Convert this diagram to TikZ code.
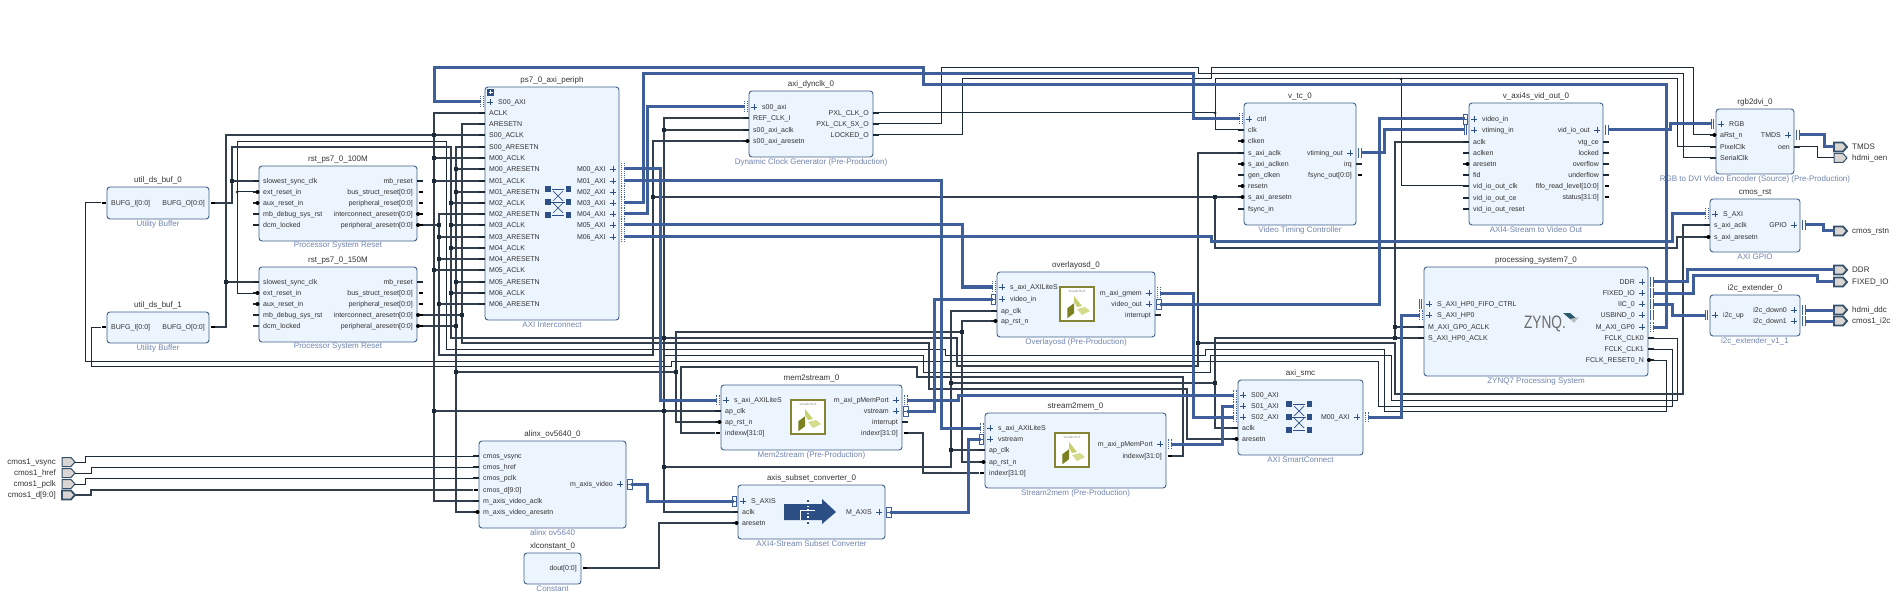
\documentclass[tikz,border=0pt]{standalone}
\usepackage{fontspec}
\setmainfont{Liberation Sans}
\catcode`\_=12
\definecolor{boxfill}{HTML}{ECF4FD}
\definecolor{boxline}{HTML}{3F5F8A}
\definecolor{capcol}{HTML}{7084AE}
\definecolor{txtcol}{HTML}{333333}
\definecolor{wirecol}{HTML}{1C2A38}
\definecolor{bluew}{HTML}{3F5F9A}
\definecolor{iconb}{HTML}{2C4F86}
\definecolor{portf}{HTML}{D9D5D2}
\definecolor{porte}{HTML}{34506A}
\tikzset{
  blockbox/.style={draw=boxline,fill=boxfill,line width=0.9pt,rounded corners=3pt,inner sep=0pt,rectangle},
  blocktitle/.style={font=\fontsize{8}{9}\selectfont,text=txtcol,inner sep=0pt},
  blockcap/.style={font=\fontsize{8}{9}\selectfont,text=capcol,inner sep=0pt},
  pinl/.style={font=\fontsize{7}{8}\selectfont,text=txtcol,inner sep=0pt,anchor=base west},
  pinr/.style={font=\fontsize{7}{8}\selectfont,text=txtcol,inner sep=0pt,anchor=base east},
  portl/.style={font=\fontsize{8}{9}\selectfont,text=txtcol,inner sep=0pt},
  stub/.style={draw=wirecol,line width=1.3pt},
  stubbus/.style={draw=black,line width=2.6pt},
  adot/.style={fill=black},
  plusm/.style={draw=iconb,line width=0.9pt},
  mkline/.style={draw=bluew,line width=0.7pt},
  wthin/.style={draw=wirecol,line width=1pt},
  wthick/.style={draw=wirecol!90!white,line width=1.9pt},
  wblue/.style={draw=bluew,line width=3pt},
  junc/.style={fill=wirecol,inner sep=0pt,minimum size=3.8pt,rectangle},
  portshape/.style={draw=porte,fill=portf,line width=1pt},
  portbus/.style={draw=porte,fill=portf,line width=1.8pt},
}
\newcommand{\Block}[7]{%
  \node[blockbox,minimum width={(#4-#2)*1pt},minimum height={(#5-#3)*1pt}] (#1) at ({(#2+#4)/2},{(#3+#5)/2}) {};
  \node[blocktitle] (#1-title) at ({(#2+#4)/2},{#3-6.5}) {#6};
  \node[blockcap] (#1-cap) at ({(#2+#4)/2},{#5+5}) {#7};}
% left pins
\newcommand{\LN}[4]{\coordinate (#1) at ({#2-6},#3); \draw[stub] (#1) -- (#2,#3); \node[pinl] (#1-t) at ({#2+4},{#3+2.5}) {#4};}
\newcommand{\LR}[4]{\LN{#1}{#2}{#3}{#4}\fill[adot] ({#2-1.5},#3) circle (2pt);}
\newcommand{\LB}[4]{\coordinate (#1) at ({#2-6},#3); \draw[stubbus] ({#2-5.5},#3) -- ({#2-1.5},#3); \node[pinl] (#1-t) at ({#2+4},{#3+2.5}) {#4};}
\newcommand{\LI}[5]{\coordinate (#1) at ({#2-4},#3); \draw[plusm] ({#2+2},#3) -- ({#2+8},#3) ({#2+5},{#3-3}) -- ({#2+5},{#3+3}); #5{#2-3.5}{#3} \node[pinl] (#1-t) at ({#2+13},{#3+2.5}) {#4};}
% right pins
\newcommand{\RN}[4]{\coordinate (#1) at ({#2+6},#3); \draw[stub] (#1) -- (#2,#3); \node[pinr] (#1-t) at ({#2-4},{#3+2.5}) {#4};}
\newcommand{\RB}[4]{\coordinate (#1) at ({#2+6},#3); \draw[stubbus] ({#2+1.5},#3) -- ({#2+5.5},#3); \node[pinr] (#1-t) at ({#2-4},{#3+2.5}) {#4};}
\newcommand{\RD}[4]{\RB{#1}{#2}{#3}{#4}\fill[adot] ({#2+1},#3) circle (2pt);}
\newcommand{\RR}[4]{\RN{#1}{#2}{#3}{#4}\fill[adot] ({#2+1},#3) circle (2pt);}
\newcommand{\RI}[5]{\coordinate (#1) at ({#2+5},#3); \draw[plusm] ({#2-9},#3) -- ({#2-3},#3) ({#2-6},{#3-3}) -- ({#2-6},{#3+3}); #5{#2+4}{#3} \node[pinr] (#1-t) at ({#2-13},{#3+2.5}) {#4};}
% interface markers
\newcommand{\MkD}[2]{\draw[mkline,dash pattern=on 0.9pt off 1pt] ({#1-1.5},{#2-5.5}) -- ({#1-1.5},{#2+5.5}) ({#1+1.5},{#2-5.5}) -- ({#1+1.5},{#2+5.5});}
\newcommand{\MkP}[2]{\draw[mkline] ({#1-1.2},{#2-5}) -- ({#1-1.2},{#2+5}) ({#1+1.2},{#2-5}) -- ({#1+1.2},{#2+5});}
\newcommand{\MkS}[2]{\draw[mkline,fill=white] ({#1-2.2},{#2-5}) rectangle ({#1+2.2},{#2+5}); \draw[mkline] ({#1-2.2},#2) -- ({#1+2.2},#2);}
% ports
\newcommand{\PortIn}[4]{\draw[#4] (62,{#2-4.5}) -- (71,{#2-4.5}) -- (75,#2) -- (71,{#2+4.5}) -- (62,{#2+4.5}) -- cycle;
  \coordinate (#1) at (75,#2); \node[portl,anchor=base east] (#1-t) at (56,{#2+2.7}) {#3};}
\newcommand{\PortOut}[4]{\draw[#4] (1834,{#2-4.5}) -- (1843,{#2-4.5}) -- (1847,#2) -- (1843,{#2+4.5}) -- (1834,{#2+4.5}) -- cycle;
  \coordinate (#1) at (1834,#2); \node[portl,anchor=base west] (#1-t) at (1852,{#2+2.7}) {#3};}
\newcommand{\J}[2]{\node[junc] (j-#1-#2) at (#1,#2) {};}
% icons
\newcommand{\XBar}[2]{%
  \foreach \yy in {-13,0,13}{\fill[iconb] ({#1-13},{#2+\yy-2.8}) rectangle ({#1-7.5},{#2+\yy+2.8}); \fill[iconb] ({#1+7.5},{#2+\yy-2.8}) rectangle ({#1+13},{#2+\yy+2.8});}
  \draw[iconb,line width=0.7pt] ({#1-6},{#2-13}) -- ({#1+6},{#2-13}) ({#1-7},#2) -- ({#1+7},#2) ({#1-6},{#2+13}) -- ({#1+6},{#2+13});
  \draw[iconb,line width=0.7pt] ({#1-5},{#2-11}) -- ({#1+5},{#2-1}) ({#1+5},{#2-11}) -- ({#1-5},{#2-1}) ({#1-5},{#2+1}) -- ({#1+5},{#2+11}) ({#1+5},{#2+1}) -- ({#1-5},{#2+11});}
\newcommand{\HLS}[3]{%
  \node[draw={rgb,255:red,132;green,132;blue,50},line width=1.5pt,fill=white,minimum size=34pt,inner sep=0pt] (#1) at (#2,#3) {};
  \node[font=\fontsize{3.2}{4}\selectfont,text=gray,inner sep=0pt] (#1-t) at (#2,{#3-12.5}) {Vivado HLS};
  \fill[fill={rgb,255:red,122;green,128;blue,30}] ({#2-9.7},{#3+4.3}) -- ({#2-3},{#3-0.7}) -- ({#2-3},{#3+9.3}) -- ({#2-9.7},{#3+14.3}) -- cycle;
  \fill[fill={rgb,255:red,200;green,207;blue,110}] ({#2-3},{#3-8}) -- ({#2+5},{#3+2}) -- ({#2},{#3+3}) -- ({#2-3},{#3-2}) -- cycle;
  \fill[fill={rgb,255:red,213;green,219;blue,140}] ({#2},{#3+5}) -- ({#2+8},{#3+3}) -- ({#2+13},{#3+7}) -- ({#2+5},{#3+11}) -- cycle;}
\begin{document}
\begin{tikzpicture}[x=1pt,y=-1pt]
\useasboundingbox (0,0) rectangle (1899,604);
% ---------- blocks ----------
\Block{ubuf0}{107}{187}{209}{219}{util_ds_buf_0}{Utility Buffer}
\LB{u0I}{107}{203}{BUFG_I[0:0]}
\RB{u0O}{209}{203}{BUFG_O[0:0]}
\Block{ubuf1}{107}{312}{209}{343}{util_ds_buf_1}{Utility Buffer}
\LB{u1I}{107}{327}{BUFG_I[0:0]}
\RB{u1O}{209}{327}{BUFG_O[0:0]}
\Block{rst0}{259}{166}{417}{241}{rst_ps7_0_100M}{Processor System Reset}
\LN{r0sl}{259}{181}{slowest_sync_clk}
\LR{r0er}{259}{192}{ext_reset_in}
\LR{r0ar}{259}{203}{aux_reset_in}
\LN{r0mb}{259}{214}{mb_debug_sys_rst}
\LN{r0dc}{259}{225}{dcm_locked}
\RN{r0mr}{417}{181}{mb_reset}
\RB{r0bs}{417}{192}{bus_struct_reset[0:0]}
\RB{r0pr}{417}{203}{peripheral_reset[0:0]}
\RD{r0ia}{417}{214}{interconnect_aresetn[0:0]}
\RD{r0pa}{417}{225}{peripheral_aresetn[0:0]}
\Block{rst1}{259}{267}{417}{342}{rst_ps7_0_150M}{Processor System Reset}
\LN{r1sl}{259}{282}{slowest_sync_clk}
\LR{r1er}{259}{293}{ext_reset_in}
\LR{r1ar}{259}{304}{aux_reset_in}
\LN{r1mb}{259}{315}{mb_debug_sys_rst}
\LN{r1dc}{259}{326}{dcm_locked}
\RN{r1mr}{417}{282}{mb_reset}
\RB{r1bs}{417}{293}{bus_struct_reset[0:0]}
\RB{r1pr}{417}{304}{peripheral_reset[0:0]}
\RD{r1ia}{417}{315}{interconnect_aresetn[0:0]}
\RD{r1pa}{417}{326}{peripheral_aresetn[0:0]}
\Block{axip}{485}{87}{619}{320}{ps7_0_axi_periph}{AXI Interconnect}
\fill[iconb] (487,89) rectangle (494,96);
\draw[white,line width=0.8pt] (488.5,92.5) -- (492.5,92.5) (490.5,90.5) -- (490.5,94.5);
\LI{psS00}{485}{102}{S00_AXI}{\MkD}
\LN{psA}{485}{113}{ACLK}
\LN{psAR}{485}{124}{ARESETN}
\LN{psS0A}{485}{135}{S00_ACLK}
\LN{psS0R}{485}{147}{S00_ARESETN}
\LN{psM0A}{485}{158}{M00_ACLK}
\LN{psM0R}{485}{169}{M00_ARESETN}
\LN{psM1A}{485}{181}{M01_ACLK}
\LN{psM1R}{485}{192}{M01_ARESETN}
\LN{psM2A}{485}{203}{M02_ACLK}
\LN{psM2R}{485}{214}{M02_ARESETN}
\LN{psM3A}{485}{225}{M03_ACLK}
\LN{psM3R}{485}{237}{M03_ARESETN}
\LN{psM4A}{485}{248}{M04_ACLK}
\LN{psM4R}{485}{259}{M04_ARESETN}
\LN{psM5A}{485}{270}{M05_ACLK}
\LN{psM5R}{485}{282}{M05_ARESETN}
\LN{psM6A}{485}{293}{M06_ACLK}
\LN{psM6R}{485}{304}{M06_ARESETN}
\RI{psM00}{619}{169}{M00_AXI}{\MkD}
\RI{psM01}{619}{181}{M01_AXI}{\MkD}
\RI{psM02}{619}{192}{M02_AXI}{\MkD}
\RI{psM03}{619}{203}{M03_AXI}{\MkD}
\RI{psM04}{619}{214}{M04_AXI}{\MkD}
\RI{psM05}{619}{225}{M05_AXI}{\MkD}
\RI{psM06}{619}{237}{M06_AXI}{\MkD}
\XBar{558}{202}
\Block{dyn}{749}{91}{873}{157}{axi_dynclk_0}{Dynamic Clock Generator (Pre-Production)}
\LI{dynS}{749}{107}{s00_axi}{\MkD}
\LN{dynRef}{749}{118}{REF_CLK_I}
\LN{dynAc}{749}{130}{s00_axi_aclk}
\LR{dynAr}{749}{141}{s00_axi_aresetn}
\RN{dynP}{873}{113}{PXL_CLK_O}
\RN{dyn5}{873}{124}{PXL_CLK_5X_O}
\RN{dynL}{873}{135}{LOCKED_O}
\Block{vtc}{1244}{103}{1356}{225}{v_tc_0}{Video Timing Controller}
\LI{vtcCtrl}{1244}{119}{ctrl}{\MkD}
\LN{vtcC}{1244}{130}{clk}
\LR{vtcCe}{1244}{141}{clken}
\LN{vtcSA}{1244}{153}{s_axi_aclk}
\LR{vtcSe}{1244}{164}{s_axi_aclken}
\LN{vtcGc}{1244}{175}{gen_clken}
\LR{vtcRs}{1244}{186}{resetn}
\LR{vtcAr}{1244}{197}{s_axi_aresetn}
\LN{vtcFs}{1244}{209}{fsync_in}
\RI{vtcOut}{1356}{153}{vtiming_out}{\MkP}
\RN{vtcIrq}{1356}{164}{irq}
\RB{vtcFo}{1356}{175}{fsync_out[0:0]}
\Block{vdo}{1469}{103}{1603}{225}{v_axi4s_vid_out_0}{AXI4-Stream to Video Out}
\LI{vdoIn}{1469}{119}{video_in}{\MkS}
\LI{vdoVt}{1469}{130}{vtiming_in}{\MkP}
\LN{vdoAc}{1469}{142}{aclk}
\LN{vdoAe}{1469}{153}{aclken}
\LR{vdoAr}{1469}{164}{aresetn}
\LN{vdoFd}{1469}{175}{fid}
\LN{vdoClk}{1469}{186}{vid_io_out_clk}
\LN{vdoCe}{1469}{198}{vid_io_out_ce}
\LN{vdoRs}{1469}{209}{vid_io_out_reset}
\RI{vdoOut}{1603}{130}{vid_io_out}{\MkP}
\RN{vdoVc}{1603}{142}{vtg_ce}
\RN{vdoLk}{1603}{153}{locked}
\RN{vdoOv}{1603}{164}{overflow}
\RN{vdoUn}{1603}{175}{underflow}
\RB{vdoFf}{1603}{186}{fifo_read_level[10:0]}
\RB{vdoSt}{1603}{197}{status[31:0]}
\Block{rgb}{1716}{109}{1794}{174}{rgb2dvi_0}{RGB to DVI Video Encoder (Source) (Pre-Production)}
\LI{rgbIn}{1716}{124}{RGB}{\MkP}
\LR{rgbR}{1716}{135}{aRst_n}
\LN{rgbP}{1716}{147}{PixelClk}
\LN{rgbS}{1716}{158}{SerialClk}
\RI{rgbT}{1794}{135}{TMDS}{\MkP}
\RN{rgbO}{1794}{147}{oen}
\Block{gpio}{1710}{199}{1800}{252}{cmos_rst}{AXI GPIO}
\LI{gpioS}{1710}{214}{S_AXI}{\MkD}
\LN{gpioAc}{1710}{225}{s_axi_aclk}
\LR{gpioAr}{1710}{237}{s_axi_aresetn}
\RI{gpioO}{1800}{225}{GPIO}{\MkP}
\Block{pc}{1424}{267}{1648}{376}{processing_system7_0}{ZYNQ7 Processing System}
\LI{pcFf}{1424}{304}{S_AXI_HP0_FIFO_CTRL}{\MkP}
\LI{pcHP}{1424}{315}{S_AXI_HP0}{\MkD}
\LN{pcGA}{1424}{327}{M_AXI_GP0_ACLK}
\LN{pcHA}{1424}{338}{S_AXI_HP0_ACLK}
\RI{pcDDR}{1648}{282}{DDR}{\MkP}
\RI{pcFI}{1648}{293}{FIXED_IO}{\MkP}
\RI{pcIIC}{1648}{304}{IIC_0}{\MkP}
\RI{pcUSB}{1648}{315}{USBIND_0}{\MkP}
\RI{pcGP}{1648}{327}{M_AXI_GP0}{\MkD}
\RN{pcC0}{1648}{338}{FCLK_CLK0}
\RN{pcC1}{1648}{349}{FCLK_CLK1}
\RR{pcR}{1648}{360}{FCLK_RESET0_N}
\node[font=\fontsize{18}{20}\selectfont,text=black!58,xscale=.76,inner sep=0pt] (zynqlogo) at (1545,324) {ZYNQ.};
\fill[fill={rgb,255:red,40;green,90;blue,110}] (1563,313) -- (1570,313) -- (1577,319) -- (1570,319) -- cycle;
\fill[fill=black!25] (1570,319) -- (1579,317) -- (1574,323) -- cycle;
\Block{i2c}{1710}{295}{1800}{336}{i2c_extender_0}{i2c_extender_v1_1}
\LI{i2cU}{1710}{315}{i2c_up}{\MkP}
\RI{i2cD0}{1800}{310}{i2c_down0}{\MkP}
\RI{i2cD1}{1800}{321}{i2c_down1}{\MkP}
\Block{ov}{997}{272}{1155}{337}{overlayosd_0}{Overlayosd (Pre-Production)}
\LI{ovA}{997}{287}{s_axi_AXILiteS}{\MkD}
\LI{ovVi}{997}{299}{video_in}{\MkS}
\LN{ovC}{997}{311}{ap_clk}
\LR{ovR}{997}{321}{ap_rst_n}
\RI{ovM}{1155}{293}{m_axi_gmem}{\MkD}
\RI{ovV}{1155}{304}{video_out}{\MkS}
\RN{ovI}{1155}{315}{interrupt}
\HLS{ovlogo}{1077}{304}
\Block{m2s}{721}{385}{902}{450}{mem2stream_0}{Mem2stream (Pre-Production)}
\LI{m2sA}{721}{400}{s_axi_AXILiteS}{\MkD}
\LN{m2sC}{721}{411}{ap_clk}
\LR{m2sR}{721}{422}{ap_rst_n}
\LB{m2sIW}{721}{433}{indexw[31:0]}
\RI{m2sM}{902}{400}{m_axi_pMemPort}{\MkD}
\RI{m2sV}{902}{411}{vstream}{\MkS}
\RN{m2sI}{902}{422}{interrupt}
\RB{m2sIR}{902}{433}{indexr[31:0]}
\HLS{m2slogo}{808}{417}
\Block{s2m}{985}{413}{1166}{488}{stream2mem_0}{Stream2mem (Pre-Production)}
\LI{s2mA}{985}{428}{s_axi_AXILiteS}{\MkD}
\LI{s2mV}{985}{439}{vstream}{\MkS}
\LN{s2mC}{985}{450}{ap_clk}
\LR{s2mR}{985}{462}{ap_rst_n}
\LB{s2mIR}{985}{473}{indexr[31:0]}
\RI{s2mM}{1166}{444}{m_axi_pMemPort}{\MkD}
\RB{s2mIW}{1166}{456}{indexw[31:0]}
\HLS{s2mlogo}{1072}{450}
\Block{smc}{1238}{380}{1363}{455}{axi_smc}{AXI SmartConnect}
\LI{smcS0}{1238}{395}{S00_AXI}{\MkD}
\LI{smcS1}{1238}{406}{S01_AXI}{\MkD}
\LI{smcS2}{1238}{417}{S02_AXI}{\MkD}
\LN{smcAc}{1238}{428}{aclk}
\LR{smcAr}{1238}{439}{aresetn}
\RI{smcM}{1363}{417}{M00_AXI}{\MkD}
\XBar{1299}{417}
\Block{al}{479}{441}{626}{528}{alinx_ov5640_0}{alinx ov5640}
\LN{alV1}{479}{456}{cmos_vsync}
\LN{alH1}{479}{467}{cmos_href}
\LN{alP1}{479}{478}{cmos_pclk}
\LB{alD1}{479}{490}{cmos_d[9:0]}
\LN{alAc}{479}{501}{m_axis_video_aclk}
\LR{alAr}{479}{512}{m_axis_video_aresetn}
\RI{alV}{626}{484}{m_axis_video}{\MkS}
\Block{xlc}{524}{553}{581}{584}{xlconstant_0}{Constant}
\RB{xlO}{581}{568}{dout[0:0]}
\Block{sub}{738}{485}{885}{539}{axis_subset_converter_0}{AXI4-Stream Subset Converter}
\LI{subS}{738}{501}{S_AXIS}{\MkS}
\LN{subAc}{738}{512}{aclk}
\LR{subAr}{738}{523}{aresetn}
\RI{subM}{885}{512}{M_AXIS}{\MkS}
\fill[iconb] (784,504) -- (822,504) -- (822,499) -- (836,512) -- (822,524) -- (822,520) -- (784,520) -- cycle;
\draw[white,line width=1pt] (800,510) -- (815,510) (800,510) -- (800,520);
\draw[white,line width=1.8pt] (808,498) -- (808,526);
\draw[iconb,line width=1.1pt,dash pattern=on 2pt off 1.6pt] (808,500) -- (808,525);
% ---------- ports ----------
\PortIn{pVs}{462}{cmos1_vsync}{portshape}
\PortIn{pHr}{473}{cmos1_href}{portshape}
\PortIn{pPc}{484}{cmos1_pclk}{portshape}
\PortIn{pDd}{495}{cmos1_d[9:0]}{portbus}
\PortOut{pTMDS}{147}{TMDS}{portbus}
\PortOut{pOen}{158}{hdmi_oen}{portshape}
\PortOut{pRstn}{231}{cmos_rstn}{portbus}
\PortOut{pDDR}{270}{DDR}{portbus}
\PortOut{pFI}{282}{FIXED_IO}{portbus}
\PortOut{pDdc}{310}{hdmi_ddc}{portbus}
\PortOut{pI2c}{321}{cmos1_i2c}{portbus}
% ---------- thin wires ----------
\draw[wthin] (pcC0) -- (1677,338) -- (1677,400) -- (1391,400) -- (1391,355) -- (1210,355) -- (1210,372) -- (923,372) -- (923,355) -- (664,355) -- (664,361) -- (85,361) -- (85,203) -- (u0I);
\draw[wthin] (pcC1) -- (1672,349) -- (1672,406) -- (1378,406) -- (1378,361) -- (671,361) -- (671,366) -- (91,366) -- (91,327) -- (u1I);
\draw[wthin] (pcR) -- (1666,360) -- (1666,411) -- (1384,411) -- (1384,349) -- (1205,349) -- (1205,355) -- (945,355) -- (945,349) -- (446,349) -- (446,142) -- (237,142) -- (237,293) -- (r1er);
\draw[wthin] (r0er) -- (237,192);
\draw[wthin] (dynP) -- (1215,113) -- (1215,130) -- (vtcC);
\draw[wthin] (1215,113) -- (1215,79) -- (1677,79) -- (1677,147) -- (rgbP);
\draw[wthin] (1401,79) -- (1401,186) -- (vdoClk);
\draw[wthin] (dyn5) -- (941,124) -- (941,68) -- (1198,68) -- (1198,74) -- (1683,74) -- (1683,158) -- (rgbS);
\draw[wthin] (dynL) -- (962,135) -- (962,79) -- (1211,79) -- (1211,68) -- (1693,68) -- (1693,135) -- (rgbR);
\draw[wthin] (rgbO) -- (1817,147) -- (1817,158) -- (pOen);
\draw[wthin] (pVs) -- (85,462) -- (85,456) -- (alV1);
\draw[wthin] (pHr) -- (91,473) -- (91,467) -- (alH1);
\draw[wthin] (pPc) -- (85,484) -- (85,478) -- (alP1);
% ---------- thick wires ----------
\draw[wthick] (pDd) -- (91,495) -- (91,490) -- (alD1);
\draw[wthick] (u0O) -- (232,203) -- (232,147) -- (451,147) -- (451,338) -- (957,338) -- (957,366) -- (1198,366) -- (1198,153) -- (vtcSA);
\draw[wthick] (r0sl) -- (232,181);
\draw[wthick] (u1O) -- (226,327) -- (226,135) -- (psS0A);
\draw[wthick] (r1sl) -- (226,282);
\draw[wthick] (psA) -- (434,113) -- (434,501) -- (alAc);
\draw[wthick] (psM0A) -- (434,158);
\draw[wthick] (psM1A) -- (434,181);
\draw[wthick] (psM5A) -- (434,270);
\draw[wthick] (434,411) -- (m2sC);
\draw[wthick] (psS0R) -- (456,147) -- (456,512) -- (alAr);
\draw[wthick] (psM0R) -- (456,169);
\draw[wthick] (psM1R) -- (456,192);
\draw[wthick] (psM5R) -- (456,282);
\draw[wthick] (r1pa) -- (456,326);
\draw[wthick] (456,372) -- (676,372);
\draw[wthick] (m2sR) -- (676,422) -- (676,332) -- (962,332);
\draw[wthick] (ovR) -- (962,321) -- (962,462) -- (s2mR);
\draw[wthick] (psM2R) -- (439,214) -- (439,355) -- (653,355) -- (653,141) -- (dynAr);
\draw[wthick] (r0pa) -- (439,225);
\draw[wthick] (psM3R) -- (439,237);
\draw[wthick] (psM4R) -- (439,259);
\draw[wthick] (psM6R) -- (439,304);
\draw[wthick] (653,197) -- (vtcAr);
\draw[wthick] (1215,197) -- (1215,248) -- (1677,248) -- (1677,237) -- (gpioAr);
\draw[wthick] (psAR) -- (462,124) -- (462,343) -- (929,343) -- (929,389) -- (1187,389) -- (1187,439) -- (smcAr);
\draw[wthick] (r1ia) -- (462,315);
\draw[wthick] (psM2A) -- (451,203);
\draw[wthick] (psM3A) -- (451,225);
\draw[wthick] (psM4A) -- (451,248);
\draw[wthick] (psM6A) -- (451,293);
\draw[wthick] (dynRef) -- (664,118) -- (664,512) -- (subAc);
\draw[wthick] (dynAc) -- (664,130);
\draw[wthick] (664,467) -- (951,467) -- (951,311) -- (ovC);
\draw[wthick] (951,450) -- (s2mC);
\draw[wthick] (951,383) -- (1215,383);
\draw[wthick] (smcAc) -- (1215,428) -- (1215,338) -- (1395,338) -- (pcHA);
\draw[wthick] (pcGA) -- (1395,327);
\draw[wthick] (vdoAc) -- (1395,142) -- (1395,338);
\draw[wthick] (1198,343) -- (1395,343) -- (1395,394) -- (1683,394) -- (1683,225) -- (gpioAc);
\draw[wthick] (m2sIW) -- (681,433) -- (681,367) -- (917,367) -- (917,377) -- (1183,377) -- (1183,456) -- (s2mIW);
\draw[wthick] (m2sIR) -- (923,433) -- (923,473) -- (s2mIR);
\draw[wthick] (xlO) -- (659,568) -- (659,523) -- (subAr);
% ---------- blue wires ----------
\draw[wblue] (psM00) -- (660,169) -- (660,400) -- (m2sA);
\draw[wblue] (psM01) -- (941,181) -- (941,428) -- (s2mA);
\draw[wblue] (psM03) -- (643,203) -- (643,74) -- (1193,74) -- (1193,119) -- (vtcCtrl);
\draw[wblue] (psM04) -- (647,214) -- (647,107) -- (dynS);
\draw[wblue] (psM05) -- (962,225) -- (962,287) -- (ovA);
\draw[wblue] (psM06) -- (1211,237) -- (1211,242) -- (1672,242) -- (1672,214) -- (gpioS);
\draw[wblue] (psS00) -- (434,102) -- (434,68) -- (923,68) -- (923,85) -- (1666,85) -- (1666,327) -- (pcGP);
\draw[wblue] (ovM) -- (1193,293) -- (1193,417) -- (smcS2);
\draw[wblue] (ovV) -- (1379,304) -- (1379,119) -- (vdoIn);
\draw[wblue] (m2sM) -- (958,400) -- (958,395) -- (smcS0);
\draw[wblue] (m2sV) -- (934,411) -- (934,299) -- (ovVi);
\draw[wblue] (s2mM) -- (1222,444) -- (1222,406) -- (smcS1);
\draw[wblue] (subM) -- (968,512) -- (968,439) -- (s2mV);
\draw[wblue] (smcM) -- (1401,417) -- (1401,315) -- (pcHP);
\draw[wblue] (alV) -- (647,484) -- (647,501) -- (subS);
\draw[wblue] (vtcOut) -- (1384,153) -- (1384,130) -- (vdoVt);
\draw[wblue] (vdoOut) -- (1670,130) -- (1670,124) -- (rgbIn);
\draw[wblue] (rgbT) -- (1824,135) -- (1824,147) -- (pTMDS);
\draw[wblue] (gpioO) -- (1823,225) -- (1823,231) -- (pRstn);
\draw[wblue] (pcDDR) -- (1687,282) -- (1687,270) -- (pDDR);
\draw[wblue] (pcFI) -- (1693,293) -- (1693,276) -- (1817,276) -- (1817,282) -- (pFI);
\draw[wblue] (pcIIC) -- (1672,304) -- (1672,315) -- (i2cU);
\draw[wblue] (i2cD0) -- (pDdc);
\draw[wblue] (i2cD1) -- (pI2c);
% ---------- junctions ----------
\J{232}{181}\J{226}{282}\J{434}{135}\J{434}{158}\J{434}{181}\J{434}{270}\J{434}{411}
\J{451}{203}\J{451}{225}\J{451}{248}\J{451}{293}
\J{456}{169}\J{456}{192}\J{456}{282}\J{456}{326}\J{456}{372}
\J{439}{225}\J{439}{237}\J{439}{259}\J{439}{304}\J{462}{315}
\J{664}{130}\J{664}{338}\J{664}{411}\J{664}{467}\J{653}{197}\J{1215}{197}
\J{676}{372}\J{962}{332}\J{951}{383}\J{951}{450}\J{1215}{383}\J{1198}{343}
\J{1395}{327}\J{1395}{338}
\fill[wirecol] (237,192) circle (1.5pt) (1215,113) circle (1.5pt) (1401,79) circle (1.5pt);
\end{tikzpicture}
\end{document}
